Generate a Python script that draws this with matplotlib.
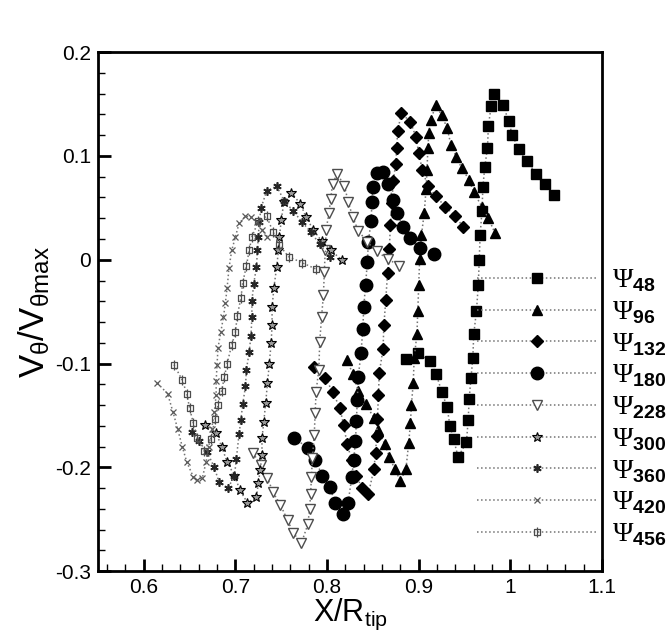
import matplotlib
matplotlib.use('Agg')
import matplotlib.pyplot as plt
from matplotlib.path import Path
from matplotlib.ticker import MultipleLocator, FormatStrFormatter

plt.rcParams['font.family'] = ['Liberation Sans', 'DejaVu Sans']
plt.rcParams['mathtext.fontset'] = 'custom'
plt.rcParams['mathtext.rm'] = 'Liberation Sans'
plt.rcParams['mathtext.it'] = 'Liberation Sans'
plt.rcParams['mathtext.bf'] = 'Liberation Sans:bold'
plt.rcParams['mathtext.cal'] = 'Liberation Serif'
plt.rcParams['axes.unicode_minus'] = False

# psi = 48
x48 = [0.886, 0.899, 0.912, 0.919, 0.925, 0.931, 0.934, 0.938, 0.943, 0.952, 0.954, 0.955,
       0.957, 0.959, 0.960, 0.963, 0.965, 0.966, 0.967, 0.969, 0.970, 0.972, 0.975, 0.976,
       0.979, 0.982, 0.992, 0.998, 1.002, 1.009, 1.018, 1.028, 1.038, 1.048]
y48 = [-0.096, -0.090, -0.098, -0.110, -0.127, -0.142, -0.160, -0.173, -0.190, -0.176, -0.154, -0.134,
       -0.114, -0.095, -0.072, -0.049, -0.024, 0.000, 0.024, 0.047, 0.070, 0.089, 0.108, 0.129,
       0.148, 0.160, 0.149, 0.134, 0.120, 0.107, 0.095, 0.083, 0.073, 0.062]
# psi = 96
x96 = [0.822, 0.828, 0.834, 0.842, 0.851, 0.856, 0.863, 0.868, 0.874, 0.880, 0.886, 0.889, 0.891,
       0.892, 0.894, 0.895, 0.898, 0.899, 0.900, 0.901, 0.903, 0.906, 0.908, 0.909, 0.910, 0.911,
       0.913, 0.919, 0.925, 0.931, 0.935, 0.941, 0.947, 0.955, 0.960, 0.969, 0.976, 0.983]
y96 = [-0.097, -0.110, -0.126, -0.139, -0.152, -0.164, -0.178, -0.190, -0.202, -0.213, -0.202, -0.177, -0.157,
       -0.140, -0.119, -0.095, -0.072, -0.049, -0.024, 0.001, 0.024, 0.045, 0.068, 0.086, 0.108, 0.122,
       0.135, 0.149, 0.139, 0.127, 0.111, 0.099, 0.088, 0.077, 0.065, 0.051, 0.040, 0.026]
# psi = 132
x132 = [0.786, 0.798, 0.806, 0.814, 0.818, 0.822, 0.827, 0.832, 0.838, 0.845, 0.851, 0.853, 0.854,
        0.855, 0.856, 0.857, 0.861, 0.862, 0.864, 0.866, 0.868, 0.869, 0.871, 0.872, 0.875, 0.876,
        0.877, 0.881, 0.891, 0.897, 0.900, 0.904, 0.910, 0.919, 0.929, 0.940, 0.948]
y132 = [-0.103, -0.114, -0.127, -0.143, -0.159, -0.178, -0.193, -0.208, -0.220, -0.226, -0.202, -0.186, -0.170,
        -0.153, -0.130, -0.109, -0.086, -0.063, -0.039, -0.013, 0.010, 0.033, 0.055, 0.076, 0.092, 0.108,
        0.124, 0.141, 0.133, 0.118, 0.103, 0.086, 0.071, 0.061, 0.051, 0.042, 0.032]
# psi = 180
x180 = [0.764, 0.779, 0.787, 0.795, 0.803, 0.809, 0.817, 0.823, 0.827, 0.829, 0.831, 0.832, 0.833,
        0.834, 0.837, 0.839, 0.840, 0.842, 0.844, 0.845, 0.848, 0.849, 0.850, 0.854, 0.861, 0.867,
        0.872, 0.876, 0.883, 0.890, 0.901, 0.917]
y180 = [-0.172, -0.181, -0.193, -0.208, -0.219, -0.234, -0.245, -0.234, -0.209, -0.193, -0.175, -0.155, -0.135,
        -0.113, -0.090, -0.067, -0.046, -0.024, -0.002, 0.017, 0.037, 0.056, 0.070, 0.084, 0.085, 0.073,
        0.058, 0.045, 0.032, 0.021, 0.011, 0.006]
# psi = 228
x228 = [0.719, 0.728, 0.735, 0.741, 0.749, 0.757, 0.763, 0.772, 0.779, 0.781, 0.782, 0.783, 0.784,
        0.786, 0.787, 0.788, 0.791, 0.792, 0.794, 0.796, 0.797, 0.798, 0.799, 0.802, 0.804, 0.806,
        0.811, 0.819, 0.823, 0.828, 0.834, 0.844, 0.854, 0.866, 0.879]
y228 = [-0.186, -0.198, -0.210, -0.224, -0.236, -0.251, -0.263, -0.273, -0.255, -0.240, -0.226, -0.209, -0.191,
        -0.169, -0.148, -0.127, -0.106, -0.079, -0.055, -0.034, -0.012, 0.009, 0.029, 0.045, 0.059, 0.073,
        0.083, 0.071, 0.056, 0.041, 0.028, 0.017, 0.008, 0.001, -0.006]
# psi = 300
x300 = [0.667, 0.679, 0.685, 0.691, 0.699, 0.705, 0.713, 0.723, 0.725, 0.727, 0.729, 0.729, 0.731,
        0.733, 0.735, 0.737, 0.739, 0.740, 0.740, 0.742, 0.745, 0.747, 0.748, 0.750, 0.753, 0.761,
        0.771, 0.777, 0.785, 0.794, 0.804, 0.816]
y300 = [-0.159, -0.167, -0.180, -0.195, -0.208, -0.222, -0.234, -0.229, -0.215, -0.203, -0.188, -0.172, -0.156,
        -0.138, -0.119, -0.100, -0.080, -0.063, -0.046, -0.027, -0.007, 0.009, 0.022, 0.038, 0.056, 0.064,
        0.054, 0.041, 0.029, 0.018, 0.009, 0.000]
# psi = 360
x360 = [0.653, 0.660, 0.669, 0.677, 0.682, 0.692, 0.699, 0.701, 0.704, 0.706, 0.708, 0.711, 0.712,
        0.715, 0.717, 0.718, 0.718, 0.720, 0.723, 0.724, 0.725, 0.726, 0.728, 0.734, 0.745, 0.753,
        0.763, 0.773, 0.782, 0.792, 0.803]
y360 = [-0.166, -0.175, -0.185, -0.200, -0.214, -0.220, -0.208, -0.192, -0.168, -0.154, -0.139, -0.122, -0.106,
        -0.089, -0.073, -0.055, -0.040, -0.023, -0.007, 0.009, 0.022, 0.036, 0.050, 0.066, 0.071, 0.057,
        0.047, 0.036, 0.027, 0.015, 0.003]
# psi = 420
x420 = [0.615, 0.626, 0.632, 0.637, 0.642, 0.647, 0.654, 0.658, 0.664, 0.668, 0.671, 0.674, 0.677,
        0.679, 0.679, 0.680, 0.681, 0.684, 0.687, 0.689, 0.691, 0.693, 0.696, 0.700, 0.704, 0.711,
        0.717, 0.724, 0.729, 0.735]
y420 = [-0.119, -0.129, -0.147, -0.163, -0.180, -0.195, -0.209, -0.212, -0.210, -0.195, -0.180, -0.163, -0.147,
        -0.130, -0.117, -0.101, -0.085, -0.070, -0.055, -0.042, -0.027, -0.008, 0.009, 0.022, 0.035, 0.042,
        0.041, 0.036, 0.029, 0.022]
# psi = 456
x456 = [0.633, 0.642, 0.647, 0.650, 0.654, 0.658, 0.666, 0.673, 0.678, 0.681, 0.685, 0.688, 0.691,
        0.696, 0.700, 0.702, 0.706, 0.708, 0.712, 0.715, 0.718, 0.725, 0.734, 0.741, 0.748, 0.758,
        0.773, 0.788]
y456 = [-0.101, -0.116, -0.129, -0.143, -0.157, -0.172, -0.184, -0.173, -0.153, -0.140, -0.126, -0.113, -0.100,
        -0.082, -0.070, -0.054, -0.037, -0.022, -0.006, 0.009, 0.022, 0.037, 0.042, 0.027, 0.014, 0.003,
        -0.003, -0.009]

labels = ['48', '96', '132', '180', '228', '300', '360', '420', '456']

# square with a vertical bar through it
boxbar = Path([(-1, -1), (1, -1), (1, 1), (-1, 1), (-1, -1), (0, -1.5), (0, 1.5)],
              [Path.MOVETO, Path.LINETO, Path.LINETO, Path.LINETO, Path.CLOSEPOLY,
               Path.MOVETO, Path.LINETO])

styles = [
    dict(marker='s', ms=7, mfc='k', mec='k'),
    dict(marker='^', ms=7.5, mfc='k', mec='k'),
    dict(marker='D', ms=6, mfc='k', mec='k'),
    dict(marker='o', ms=9, mfc='k', mec='k'),
    dict(marker='v', ms=7.5, mfc='white', mec='0.3', mew=1),
    dict(marker='*', ms=7.5, mfc='0.6', mec='k', mew=0.8),
    dict(marker=(6, 2, 0), ms=6, mfc='k', mec='0.15', mew=1.2),
    dict(marker='x', ms=4, mec='0.35', mew=0.9),
    dict(marker=boxbar, ms=7, mfc='none', mec='0.3', mew=0.9),
]

series = [(x48, y48), (x96, y96), (x132, y132), (x180, y180), (x228, y228),
          (x300, y300), (x360, y360), (x420, y420), (x456, y456)]

fig = plt.figure(figsize=(6.66, 6.36), dpi=100)
ax = fig.add_axes([0.147, 0.102, 0.757, 0.816])

for (xs, ys), st, lab in zip(series, styles, labels):
    ax.plot(xs, ys, ls=':', lw=1.1, color='0.45',
            label=r'$\mathcal{\Psi}_{\mathbf{' + lab + '}}$', **st)

ax.set_xlim(0.55, 1.1)
ax.set_ylim(-0.3, 0.2)
ax.xaxis.set_major_locator(MultipleLocator(0.1))
ax.xaxis.set_minor_locator(MultipleLocator(0.02))
ax.yaxis.set_major_locator(MultipleLocator(0.1))
ax.yaxis.set_minor_locator(MultipleLocator(0.02))
ax.xaxis.set_major_formatter(FormatStrFormatter('%g'))
ax.yaxis.set_major_formatter(FormatStrFormatter('%g'))
ax.tick_params(which='both', direction='in', top=False, right=False, labelsize=15, width=1.5)
ax.tick_params(which='major', length=9, width=2, pad=5)
ax.tick_params(which='minor', length=5, width=1)
for sp in ax.spines.values():
    sp.set_linewidth(2)

ax.set_xlabel(r'X/R$_{\mathrm{tip}}$', fontsize=22, labelpad=0)
ax.set_ylabel(r'V$_{\theta}$/V$_{\theta\mathrm{max}}$', fontsize=25, labelpad=2)

ax.legend(loc='upper left', bbox_to_anchor=(0.752, 0.585), frameon=False, fontsize=20,
          handlelength=4.3, handletextpad=0.55, labelspacing=0.19, borderaxespad=0,
          borderpad=0)

fig.savefig('out.png', dpi=100)
